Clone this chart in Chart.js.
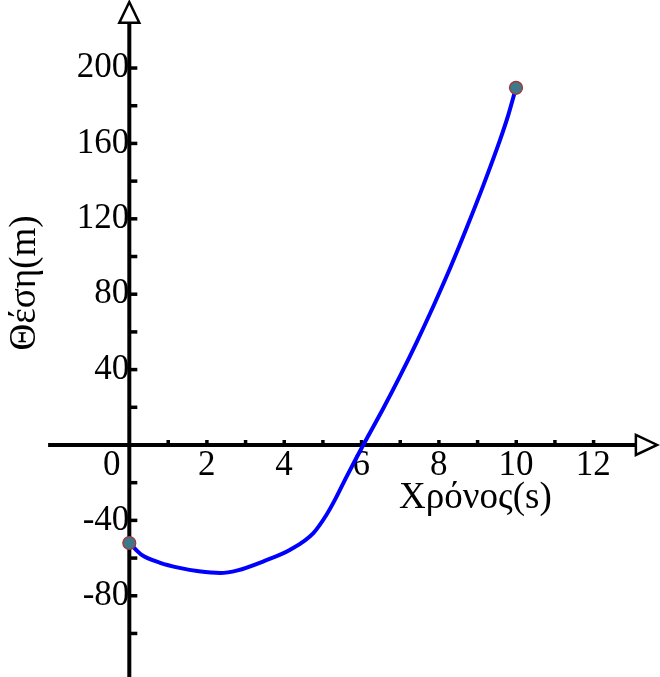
<!DOCTYPE html>
<html><head><meta charset="utf-8">
<script src="https://cdn.jsdelivr.net/npm/chart.js@4"></script>
<style>html,body{margin:0;padding:0;background:#fff}#wrap{width:660px;height:677px;position:relative}</style>
</head><body><div id="wrap"><canvas id="c" width="660" height="677"></canvas></div>
<script>
// Data
const times     = [0, 0.3, 0.8, 1.3, 1.8, 2.35, 2.8, 3.47, 4.16, 4.76, 5.1, 5.32, 5.62, 6.05, 6.57, 7.0, 7.43, 7.86, 8.3, 8.73, 9.16, 9.59, 9.8, 10];
const positions = [-52, -58, -62.5, -65.2, -67, -67.9, -66.5, -61.7, -55.6, -46.7, -37, -29, -16.8, 0, 19.5, 36.5, 54.5, 73.5, 94, 115.5, 138, 162, 175, 189.5];
const endTimes = [0, 10];
const endPositions = [-52, 189.5];
const xTickValues = [0, 2, 4, 6, 8, 10, 12];
const xTickLabels = ['0', '2', '4', '6', '8', '10', '12'];
const yTickValues = [-80, -40, 40, 80, 120, 160, 200];
const yTickLabels = ['-80', '-40', '40', '80', '120', '160', '200'];
const xMinorTicks = [1, 2, 3, 4, 5, 6, 7, 8, 9, 10, 11, 12];
const yMinorTicks = [-100, -80, -60, -40, -20, 20, 40, 60, 80, 100, 120, 140, 160, 180, 200];
const xTitle = 'Χρόνος(s)';
const yTitle = 'Θέση(m)';

const FONT = "'Liberation Serif', 'Times New Roman', serif";

const axesPlugin = {
  id: 'axesPlugin',
  beforeDatasetsDraw(chart) {
    const ctx = chart.ctx;
    const xs = chart.scales.x, ys = chart.scales.y;
    const x0 = xs.getPixelForValue(0), y0 = ys.getPixelForValue(0);
    ctx.save();
    ctx.strokeStyle = '#000';
    ctx.fillStyle = '#000';
    ctx.lineWidth = 4;
    const xl = xs.getPixelForValue(-2.1), xb = xs.getPixelForValue(13.1), xt = xs.getPixelForValue(13.65);
    ctx.beginPath(); ctx.moveTo(xl, y0); ctx.lineTo(xb, y0); ctx.stroke();
    const yb = chart.chartArea.bottom, ybase = ys.getPixelForValue(224), ytip = ys.getPixelForValue(235);
    ctx.beginPath(); ctx.moveTo(x0, yb); ctx.lineTo(x0, ybase); ctx.stroke();
    ctx.lineWidth = 2.5;
    ctx.fillStyle = '#fff';
    ctx.beginPath(); ctx.moveTo(xb, y0 - 10); ctx.lineTo(xt, y0); ctx.lineTo(xb, y0 + 10); ctx.closePath(); ctx.fill(); ctx.stroke();
    ctx.beginPath(); ctx.moveTo(x0 - 10, ybase); ctx.lineTo(x0, ytip); ctx.lineTo(x0 + 10, ybase); ctx.closePath(); ctx.fill(); ctx.stroke();
    ctx.fillStyle = '#000';
    xMinorTicks.forEach(v => { const p = xs.getPixelForValue(v); ctx.fillRect(p - 1.5, y0 - 5, 3.5, 5); });
    yMinorTicks.forEach(v => { const p = ys.getPixelForValue(v); ctx.fillRect(x0, p - 1.75, 8, 3.5); });
    ctx.font = '37px ' + FONT;
    ctx.textAlign = 'center'; ctx.textBaseline = 'middle';
    ctx.fillText(xTitle, xs.getPixelForValue(8.95), ys.getPixelForValue(-28.5));
    ctx.translate(25, ys.getPixelForValue(86));
    ctx.rotate(-Math.PI / 2);
    ctx.fillText(yTitle, 0, 0);
    ctx.restore();
  }
};

function zeroFit(isX) {
  return s => {
    if (isX) s.height = 0; else s.width = 0;
    s.paddingLeft = 0; s.paddingRight = 0; s.paddingTop = 0; s.paddingBottom = 0;
  };
}

new Chart(document.getElementById('c'), {
  type: 'scatter',
  data: {
    datasets: [
      {
        data: times.map((t, i) => ({x: t, y: positions[i]})),
        showLine: true, borderColor: '#0000ff', borderWidth: 4, pointRadius: 0,
        tension: 0.4, cubicInterpolationMode: 'monotone', order: 2
      },
      {
        data: endTimes.map((t, i) => ({x: t, y: endPositions[i]})),
        showLine: false, pointRadius: 6.5, pointBackgroundColor: '#3f7888',
        pointBorderColor: '#b03030', pointBorderWidth: 1.2, order: 1
      }
    ]
  },
  options: {
    responsive: false, animation: false, devicePixelRatio: 1,
    layout: {padding: 0, autoPadding: false},
    plugins: {legend: {display: false}, tooltip: {enabled: false}},
    scales: {
      x: {
        type: 'linear', min: -3.344, max: 13.724, position: {y: 0},
        grid: {display: false, drawTicks: false}, border: {display: false},
        afterFit: zeroFit(true),
        afterBuildTicks: s => { s.ticks = xTickValues.map(v => ({value: v})); },
        ticks: {
          padding: 0, maxRotation: 0, autoSkip: false, color: '#000',
          font: {family: FONT, size: 35},
          callback: (v) => { const i = xTickValues.indexOf(v); if (i < 0) return ''; return i === 0 ? xTickLabels[i] + '    ' : xTickLabels[i]; }
        }
      },
      y: {
        type: 'linear', min: -123.1, max: 236.1, position: {x: 0},
        grid: {display: false, drawTicks: false}, border: {display: false},
        afterFit: zeroFit(false),
        afterBuildTicks: s => { s.ticks = yTickValues.map(v => ({value: v})); },
        ticks: {
          padding: 4, autoSkip: false, color: '#000',
          font: {family: FONT, size: 35},
          callback: (v) => { const i = yTickValues.indexOf(v); return i < 0 ? '' : yTickLabels[i]; }
        }
      }
    }
  },
  plugins: [axesPlugin]
});
</script>
</body></html>
